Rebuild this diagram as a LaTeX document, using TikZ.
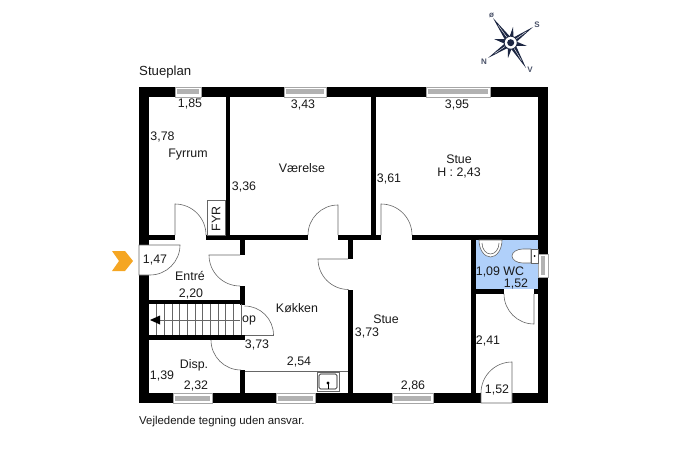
\documentclass[tikz,border=0pt]{standalone}
\usepackage{fontspec}
\usetikzlibrary{calc}
\setmainfont{Liberation Sans}
\definecolor{wcblue}{RGB}{176,208,250}
\definecolor{arroworange}{RGB}{245,166,35}
\definecolor{compassnavy}{RGB}{28,38,66}
\tikzset{
    wall/.style={fill=black,draw=none},
    doorleaf/.style={draw=black!60,line width=0.6pt},
    thinline/.style={draw=black!60,line width=0.6pt},
    winframe/.style={fill=white,draw=black!35,line width=0.5pt},
    winbar/.style={fill=black!30,draw=none},
    lbl/.style={font=\fontsize{12.4}{14}\selectfont,inner sep=0pt,text=black!90,yshift=-1pt}
}
\begin{document}
\begin{tikzpicture}[x=1pt,y=-1pt]
    \useasboundingbox (0,0) rectangle (687,457);

    % WC floor
    \fill[wcblue] (476,240) rectangle (538,289);

    % Outer walls
    \fill[wall] (139,87) rectangle (548,97);
    \fill[wall] (139,393) rectangle (548,403);
    \fill[wall] (139,87) rectangle (149.3,403);
    \fill[wall] (538,87) rectangle (548,403);

    % Inner walls
    \foreach \xa/\ya/\xb/\yb in {
        225.5/97/230/240,
        371/97/376/240,
        149/235/175/240,
        206/235/308/240,
        338/235/381/240,
        412/235/538/240,
        240/240/244.5/255,
        240/286/244.5/305,
        240/370/244.5/393,
        348/240/353/259,
        348/290/353/393,
        471/240/476/393,
        476/289/504/294,
        534/289/538/294,
        149/300/244.5/304,
        149/335/244.5/340
    } {
        \fill[wall] (\xa,\ya) rectangle (\xb,\yb);
    }

    % Windows in the top and bottom walls
    \foreach \xa/\xb/\ya/\yb in {
        175/201/87/97,
        284/326/87/97,
        426/490/87/97,
        173/212/393/403,
        276/315/393/403,
        392/433/393/403
    } {
        \path[winframe] (\xa,\ya) rectangle (\xb,\yb);
        \fill[winbar] (\xa+2,\ya+2.5) rectangle (\xb-2,\yb-2.5);
    }

    % Window in the right wall
    \path[winframe] (538,254) rectangle (548,277);
    \fill[winbar] (541,256) rectangle (545,275);

    % Doors
    \path[doorleaf] (175,235) -- (175,204) arc[start angle=-90,end angle=0,radius=31];
    \path[doorleaf] (338,235) -- (338,205) arc[start angle=-90,end angle=-180,radius=30];
    \path[doorleaf] (381,235) -- (381,204) arc[start angle=-90,end angle=0,radius=31];
    \path[doorleaf] (348,259) -- (318,259) arc[start angle=180,end angle=90,radius=30.5];
    \path[doorleaf] (240,255) -- (209,255) arc[start angle=180,end angle=90,radius=31];
    \path[doorleaf,fill=white] (139,245) -- (180,245) arc[start angle=0,end angle=90,radius=30] -- (139,275) -- cycle;
    \path[doorleaf] (273.5,335) -- (244.5,335);
    \path[doorleaf] (244.5,306) arc[start angle=-90,end angle=0,radius=29];
    \path[doorleaf] (211,340) arc[start angle=180,end angle=90,radius=30];
    \path[doorleaf] (534,294) -- (534,324) arc[start angle=90,end angle=180,radius=30];
    \path[doorleaf,fill=white] (512,403) -- (512,362) arc[start angle=-90,end angle=-180,radius=31] -- (481,403) -- cycle;

    % Stairs
    \foreach \n in {0,...,11} {
        \draw[thinline] (156.5+\n*7.67,304) -- (156.5+\n*7.67,335);
    }
    \draw[thinline] (160,320) -- (240,320);
    \fill[black] (150,320) -- (160,315.5) -- (160,324.5) -- cycle;

    % Boiler box
    \path[doorleaf,fill=white] (207.5,200) rectangle (225.5,235);

    % Kitchen counter and sink
    \draw[thinline] (244.5,371) -- (348,371);
    \draw[thinline] (317,372) rectangle (339,391);
    \draw[thinline,rounded corners=1.5pt,draw=black] (319,374) rectangle (337,389);
    \draw[black,line width=0.8pt] (328,383) -- (328,389);
    \fill[black] (328,383) circle (1.6pt);

    % WC fittings
    \draw[thinline,fill=white] (479,240) arc[start angle=180,end angle=0,x radius=11.5,y radius=17] -- cycle;
    \draw[thinline] (482,243) arc[start angle=180,end angle=0,x radius=8.5,y radius=11];
    \draw[thinline,fill=white] (531,249) -- (523,249) arc[start angle=-90,end angle=-270,x radius=11,y radius=7] -- (531,263) -- cycle;
    \draw[thinline,fill=white] (531.5,249) rectangle (538,263);
    \fill[black] (534.5,256) circle (1pt);

    % Entrance marker
    \fill[arroworange] (112,251) -- (125,251) -- (133,261) -- (125,271) -- (112,271) -- (119,261) -- cycle;

    % Compass star
    \coordinate (star) at (510.7,42.7);
    \foreach \tx/\ty in {513/27,527/46,508/58,494/39} {
        \fill[compassnavy] ($(star)!0.2!90:(\tx,\ty)$) -- (\tx,\ty) -- ($(star)!0.2!-90:(\tx,\ty)$) -- cycle;
    }
    \foreach \tx/\ty in {493/18,533/27,488/58,526/68} {
        \fill[compassnavy] ($(star)!0.12!90:(\tx,\ty)$) -- (\tx,\ty) -- ($(star)!0.12!-90:(\tx,\ty)$) -- cycle;
        \draw[white,line width=0.4pt] (star) -- ($(star)!0.7!(\tx,\ty)$);
    }
    \draw[compassnavy,fill=white,line width=0.8pt] (star) circle (6.5pt);
    \fill[compassnavy] (star) circle (3.5pt);

    % Compass letters
    \foreach \x/\y/\name/\txt in {
        491.5/15/dirO/ø,
        537/25/dirS/S,
        484/62/dirN/N,
        530/70/dirV/V
    } {
        \node[font=\bfseries\fontsize{8}{9}\selectfont,text=compassnavy!80,inner sep=0pt] (\name) at (\x,\y) {\txt};
    }

    % Room names and measures
    \foreach \x/\y/\name/\txt in {
        190/103/dimA/{1,85},
        303/104/dimB/{3,43},
        457/104/dimC/{3,95},
        162.5/136/dimD/{3,78},
        188/154/fyrrum/Fyrrum,
        302/167/vaerelse/Værelse,
        459/158/stueA/Stue,
        459/172/height/{H : 2,43},
        244/186/dimE/{3,36},
        389/178/dimF/{3,61},
        155/259/dimG/{1,47},
        190/275/entre/Entré,
        191/293/dimH/{2,20},
        297/307/koekken/Køkken,
        249/319/op/op,
        257/344/dimI/{3,73},
        386/318/stueB/Stue,
        367/332/dimJ/{3,73},
        194/364/disp/Disp.,
        299/361/dimK/{2,54},
        162/375/dimL/{1,39},
        196/385/dimM/{2,32},
        413/385/dimN/{2,86},
        500/271/wc/{1,09 WC},
        516/283/dimO/{1,52},
        488/340/dimP/{2,41},
        497/389/dimQ/{1,52}
    } {
        \node[lbl] (\name) at (\x,\y) {\txt};
    }
    \node[lbl,rotate=90,yshift=1pt] (fyr) at (217,218) {FYR};

    % Title and note
    \node[lbl,anchor=west,font=\fontsize{13.2}{15}\selectfont] (title) at (139,71) {Stueplan};
    \node[lbl,anchor=west,font=\fontsize{11.4}{13}\selectfont] (note) at (139,421) {Vejledende tegning uden ansvar.};
\end{tikzpicture}
\end{document}
